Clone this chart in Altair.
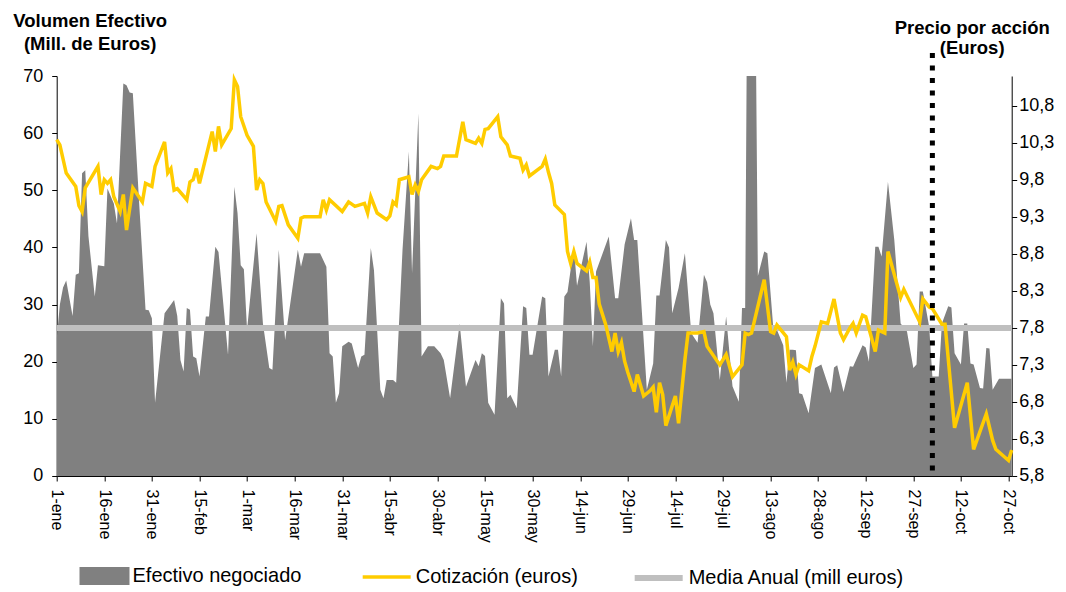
import altair as alt
import pandas as pd

# ---------------- DATA ----------------
# days counted from 1-ene-2008
vol_dia = [0, 1, 2, 3, 5, 6, 7, 8, 9, 10, 12, 13, 15, 16, 18, 19, 21, 22, 23, 24,
           26, 28, 29, 30, 31, 34, 36, 37, 38, 39, 40, 41, 42, 43, 44, 45, 47, 48, 50, 51,
           54, 56, 57, 58, 59, 60, 63, 65, 67, 68, 70, 72, 76, 77, 78, 83, 85, 86, 87, 88,
           89, 90, 92, 93, 95, 96, 97, 99, 100, 102, 103, 104, 106, 107, 109, 111, 112, 114, 115, 117,
           119, 121, 122, 124, 127, 129, 132, 133, 134, 135, 136, 138, 140, 141, 142, 143, 145, 147, 148, 149,
           150, 153, 154, 155, 157, 158, 159, 160, 161, 163, 164, 167, 168, 169, 170, 174, 176, 177, 179, 181,
           182, 183, 186, 188, 189, 190, 192, 193, 194, 196, 198, 200, 202, 204, 205, 206, 207, 209, 211, 213,
           215, 216, 217, 218, 219, 220, 221, 223, 224, 226, 227, 229, 230, 231, 232, 233, 234, 235, 237, 239,
           241, 244, 245, 246, 248, 250, 251, 254, 255, 256, 258, 259, 260, 262, 264, 266, 268, 270, 271, 272,
           273, 275, 276, 278, 279, 281, 282, 283, 285, 286, 287, 288, 289, 291, 292, 293, 294, 295, 297, 301]
vol_valor = [24, 30, 33, 34.2, 28, 35.2, 35.5, 53, 53.5, 42, 31.4, 36.9, 36.7, 50.3, 47.7, 44.2, 68.7, 68.4, 67.1, 67,
             47.7, 29.1, 29, 27.6, 12.8, 28.5, 30, 30.8, 28, 20.3, 18.3, 29.4, 29.1, 20.9, 20.6, 17.4, 27.9, 27.9, 40.1, 39.2,
             21.2, 50.6, 46, 36.9, 36.2, 25.6, 42.5, 26.7, 18.9, 18.6, 39.6, 23.8, 39.6, 36.6, 39, 39, 36.6, 21.5, 20.9, 12.8,
             14.5, 22.7, 23.5, 23.2, 18.9, 20.9, 21.2, 39.9, 36, 15.1, 13.6, 16.8, 16.8, 16.3, 39.6, 56.8, 35.5, 63.5, 20.9, 22.7,
             22.7, 21.5, 20.3, 13.6, 26.7, 15.6, 20.3, 19.2, 21.5, 21, 12.8, 10.7, 31.1, 30.2, 13.6, 14.2, 11.9, 29.7, 29.4, 21.2,
             21.2, 31.4, 31.1, 17.4, 22.1, 22.1, 17.4, 31.4, 32.2, 40.1, 33.3, 41, 34, 22.7, 35.8, 41.9, 31.1, 31.1, 40.5, 45.1,
             41.3, 41.3, 15.1, 19.7, 31.6, 31.6, 41.3, 40, 28.5, 32.9, 39, 25, 23.3, 35.2, 33.9, 30, 28.5, 16.8, 27.9, 15.7,
             13, 29.4, 29.4, 120, 110, 100, 35, 39.3, 39, 25, 25.6, 22.9, 16.3, 22.1, 22.1, 22, 14.5, 14.3, 11, 18.9,
             19.5, 14.5, 19, 19.4, 14.7, 19.2, 19.1, 22.9, 22.5, 20, 40.1, 40.1, 38.4, 51.5, 41.3, 26.7, 25.3, 18.9, 19.5, 32.3,
             32.3, 26.1, 17.4, 17.4, 26.7, 29.7, 29.5, 21.5, 19.5, 26.7, 26.7, 19.7, 19.5, 15.4, 15.3, 22.4, 22.3, 15.1, 17, 17]

precio_dia = [0, 1, 3, 6, 7, 8, 9, 13, 14, 15, 16, 17, 18, 20, 21, 22, 24, 27, 28, 30,
              31, 34, 35, 36, 37, 38, 41, 42, 43, 44, 45, 49, 50, 51, 52, 55, 56, 57, 58, 60,
              62, 63, 64, 65, 66, 69, 70, 71, 73, 76, 77, 78, 83, 84, 85, 86, 90, 92, 94, 97,
              98, 99, 101, 104, 105, 106, 107, 108, 111, 112, 113, 114, 115, 118, 120, 121, 122, 126, 128, 129,
              132, 133, 134, 135, 136, 139, 140, 142, 143, 146, 147, 148, 149, 153, 154, 155, 156, 157, 160, 161,
              162, 163, 164, 167, 168, 169, 170, 171, 173, 175, 176, 177, 178, 179, 180, 182, 183, 185, 187, 188,
              189, 190, 191, 192, 195, 196, 198, 199, 202, 204, 205, 209, 211, 213, 216, 217, 218, 219, 223, 225,
              226, 227, 230, 231, 232, 233, 234, 237, 238, 239, 241, 243, 245, 247, 248, 250, 251, 252, 254, 255,
              258, 259, 261, 262, 266, 267, 272, 273, 275, 276, 279, 280, 283, 287, 289, 293, 295, 296, 300, 301]
precio_valor = [10.34, 10.27, 9.89, 9.71, 9.45, 9.37, 9.69, 9.98, 9.6, 9.8, 9.75, 9.8, 9.57, 9.37, 9.6, 9.12, 9.69, 9.5, 9.75, 9.71,
                9.98, 10.31, 9.89, 9.95, 9.66, 9.68, 9.53, 9.77, 9.8, 9.95, 9.75, 10.45, 10.18, 10.52, 10.27, 10.49, 11.15, 11.06, 10.65, 10.4,
                10.25, 9.66, 9.8, 9.75, 9.5, 9.24, 9.44, 9.45, 9.19, 9.01, 9.28, 9.3, 9.3, 9.53, 9.39, 9.53, 9.37, 9.5, 9.44, 9.48,
                9.35, 9.57, 9.35, 9.26, 9.31, 9.5, 9.46, 9.8, 9.84, 9.6, 9.73, 9.64, 9.8, 9.98, 9.95, 9.98, 10.12, 10.12, 10.58, 10.34,
                10.29, 10.36, 10.29, 10.48, 10.49, 10.65, 10.38, 10.27, 10.12, 10.09, 9.93, 10.0, 9.85, 9.98, 10.08, 9.9, 9.75, 9.46, 9.33, 8.83,
                8.67, 8.83, 8.67, 8.57, 8.69, 8.48, 8.48, 8.12, 7.85, 7.48, 7.73, 7.48, 7.6, 7.35, 7.2, 6.94, 7.17, 6.88, 6.95, 7.0,
                6.66, 7.06, 6.9, 6.48, 6.88, 6.51, 7.37, 7.73, 7.73, 7.75, 7.55, 7.3, 7.44, 7.14, 7.3, 7.73, 7.71, 7.73, 8.45, 7.75,
                7.73, 7.84, 7.68, 7.23, 7.34, 7.17, 7.3, 7.22, 7.41, 7.55, 7.88, 7.86, 8.19, 7.73, 7.64, 7.8, 7.86, 7.73, 7.97, 7.95,
                7.48, 7.77, 7.73, 8.83, 8.21, 8.32, 7.88, 8.19, 8.08, 8.06, 7.85, 7.85, 6.45, 7.06, 6.16, 6.64, 6.28, 6.16, 6.01, 6.15]

media_anual = [25.9]
evento_dia = [276]

ticks_x = list(range(0, 301, 15))
etiquetas_x = ["1-ene", "16-ene", "31-ene", "15-feb", "1-mar", "16-mar", "31-mar", "15-abr",
               "30-abr", "15-may", "30-may", "14-jun", "29-jun", "14-jul", "29-jul", "13-ago",
               "28-ago", "12-sep", "27-sep", "12-oct", "27-oct"]
ticks_izq = [0, 10, 20, 30, 40, 50, 60, 70]
ticks_der = [5.8, 6.3, 6.8, 7.3, 7.8, 8.3, 8.8, 9.3, 9.8, 10.3, 10.8]

series = ["Efectivo negociado", "Cotización (euros)", "Media Anual (mill euros)"]
colores = ["#808080", "#ffcc00", "#bfbfbf"]

df_vol = pd.DataFrame({"dia": vol_dia, "volumen": vol_valor, "serie": series[0]})
df_precio = pd.DataFrame({"dia": precio_dia, "precio": precio_valor, "serie": series[1]})
df_media = pd.DataFrame({"media": media_anual, "serie": series[2]})
df_evento = pd.DataFrame({"dia": evento_dia})

# ---------------- STYLE ----------------
FONT = "Liberation Sans"
W, H = 955, 400

x_scale = alt.Scale(domain=[0, 301], nice=False, zero=False)
label_expr = "[" + ",".join("'%s'" % e for e in etiquetas_x) + "][round(datum.value/15)]"

x_axis = alt.Axis(values=ticks_x, labelExpr=label_expr, labelAngle=90, labelAlign="left",
                  labelBaseline="middle", labelPadding=8, tickSize=5, tickColor="black",
                  domainColor="black", labelFont=FONT, labelFontSize=16, labelColor="black",
                  grid=False, title=None, labelOverlap=False, labelFlush=False)

left_axis = alt.Axis(values=ticks_izq, tickSize=5, tickColor="black", domainColor="black",
                     labelFont=FONT, labelFontSize=18, labelColor="black", labelPadding=9,
                     grid=False, title=["Volumen Efectivo", "(Mill. de Euros)"], titleAngle=0,
                     titleX=33, titleY=-50, titleAlign="center", titleBaseline="alphabetic",
                     titleFont=FONT, titleFontSize=18.5, titleFontWeight="bold", titleColor="black",
                     titleLineHeight=24)

right_axis = alt.Axis(orient="right", values=ticks_der, tickSize=5, tickColor="black",
                      domainColor="black", labelFont=FONT, labelFontSize=18, labelColor="black",
                      labelPadding=2, grid=False,
                      labelExpr="replace(format(datum.value, '.1f'), '.', ',')",
                      title=["Precio por acción", "(Euros)"], titleAngle=0,
                      titleX=-40, titleY=-43, titleAlign="center", titleBaseline="alphabetic",
                      titleFont=FONT, titleFontSize=18.5, titleFontWeight="bold", titleColor="black",
                      titleLineHeight=21)

leg_common = dict(title=None, orient="none", padding=0, labelFont=FONT, labelFontSize=20,
                  labelColor="black", labelOffset=3, labelLimit=0)

leg_area = alt.Legend(legendX=22.8, legendY=475, symbolType="M-1,-0.36H1V0.36H-1Z",
                      symbolSize=2500, symbolStrokeWidth=0, symbolOpacity=1, **leg_common)
leg_precio = alt.Legend(legendX=304, legendY=475, symbolType="stroke", symbolSize=2304,
                        symbolStrokeWidth=3.5, **leg_common)
leg_media = alt.Legend(legendX=575, legendY=475, symbolType="stroke", symbolSize=2304,
                       symbolStrokeWidth=6, **leg_common)

y_left = alt.Scale(domain=[0, 70], nice=False, zero=True)

area = alt.Chart(df_vol).mark_area(clip=True, interpolate="linear", opacity=1).encode(
    x=alt.X("dia:Q", scale=x_scale, axis=x_axis),
    y=alt.Y("volumen:Q", scale=y_left, axis=left_axis),
    color=alt.Color("serie:N", scale=alt.Scale(domain=[series[0]], range=[colores[0]]), legend=leg_area),
)

media = alt.Chart(df_media).mark_rule(strokeWidth=6).encode(
    y=alt.Y("media:Q", scale=y_left, axis=left_axis),
    color=alt.Color("serie:N", scale=alt.Scale(domain=[series[2]], range=[colores[2]]), legend=leg_media),
)

izquierda = alt.layer(area, media).resolve_scale(color="independent")

precio = alt.Chart(df_precio).mark_line(strokeWidth=3.5, interpolate="linear").encode(
    x=alt.X("dia:Q", scale=x_scale, axis=x_axis),
    y=alt.Y("precio:Q", scale=alt.Scale(domain=[5.8, 11.2], nice=False, zero=False), axis=right_axis),
    color=alt.Color("serie:N", scale=alt.Scale(domain=[series[1]], range=[colores[1]]), legend=leg_precio),
)

evento = alt.Chart(df_evento).mark_rule(color="black", strokeWidth=5, strokeDash=[5, 7.5],
                                        strokeCap="butt").encode(
    x=alt.X("dia:Q", scale=x_scale, axis=x_axis),
    y=alt.value(-23),
    y2=alt.value(396),
)

chart = alt.layer(izquierda, precio, evento).resolve_scale(
    y="independent", color="independent"
).properties(
    width=W, height=H,
    padding={"left": 48.7, "top": 68, "right": 46, "bottom": 116},
    autosize=alt.AutoSizeParams(type="none"),
    background="white",
).configure_view(stroke=None)

chart.save("out.html", embed_options={"renderer": "svg", "actions": False})
